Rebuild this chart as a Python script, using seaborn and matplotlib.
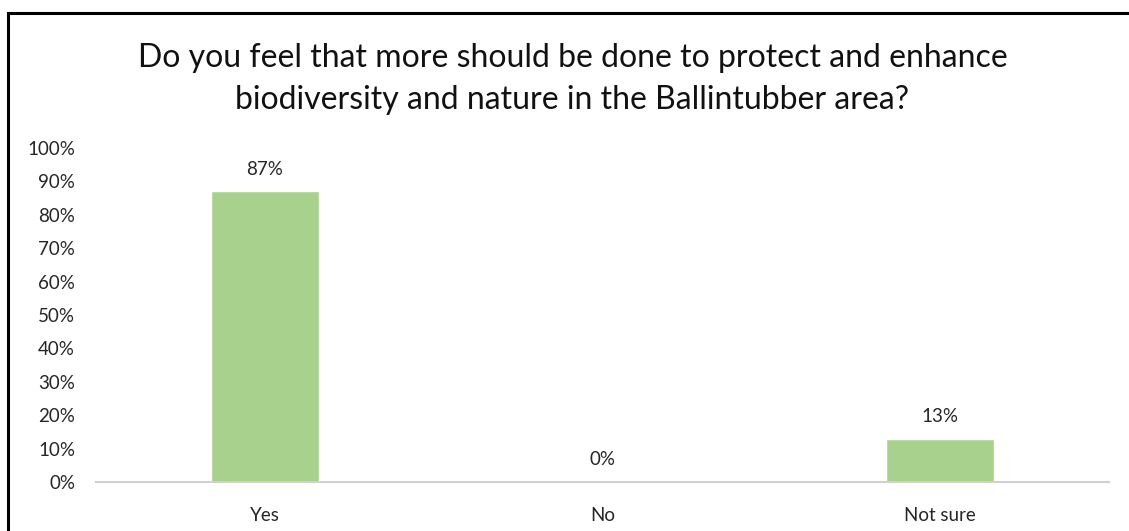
import matplotlib
matplotlib.use("Agg")
import matplotlib.pyplot as plt
import seaborn as sns
import pandas as pd
from matplotlib.patches import Rectangle
from matplotlib.ticker import FuncFormatter, MultipleLocator

categories = ["Yes", "No", "Not sure"]
shares = [87, 0, 13]
title_text = ("Do you feel that more should be done to protect and enhance\n"
              "biodiversity and nature in the Ballintubber area?")

sns.set_theme(style="white")
plt.rcParams["font.family"] = ["Lato", "DejaVu Sans"]

df = pd.DataFrame({"answer": categories, "share": [s / 100 for s in shares]})

fig = plt.figure(figsize=(11.29, 5.31), dpi=100)
ax = fig.add_axes([0.085, 0.0923, 0.897, 0.629])

sns.barplot(data=df, x="answer", y="share", color="#a9d18e", saturation=1,
            width=0.32, ax=ax)

ax.set_xlim(-0.5, 2.5)
ax.set_ylim(0, 1)
ax.yaxis.set_major_locator(MultipleLocator(0.1))
ax.yaxis.set_major_formatter(FuncFormatter(lambda v, _: f"{v * 100:.0f}%"))
ax.set_xlabel("")
ax.set_ylabel("")
ax.tick_params(axis="y", labelsize=13.5, length=0, pad=15)
ax.tick_params(axis="x", labelsize=13.5, length=0, pad=18)
for lab in ax.get_xticklabels() + ax.get_yticklabels():
    lab.set_color("#262626")

for side in ["top", "right", "left"]:
    ax.spines[side].set_visible(False)
ax.spines["bottom"].set_color("#d0d0d0")
ax.spines["bottom"].set_linewidth(1.5)

for patch, s in zip(ax.patches, shares):
    x = patch.get_x() + patch.get_width() / 2
    ax.annotate(f"{s}%", (x, patch.get_height()), xytext=(0, 10),
                textcoords="offset points", ha="center", va="bottom",
                fontsize=13.5, color="#262626")

fig.text(0.507, 0.851, title_text, ha="center", va="center",
         fontsize=23, color="#111111", linespacing=1.48)

# outer frame around the chart area
frame = Rectangle((8 / 1129, -0.2), 1.2, 1.2 - 13 / 531,
                  transform=fig.transFigure, fill=False,
                  edgecolor="black", linewidth=2.2, clip_on=False)
fig.patches.append(frame)

fig.savefig("out.png", dpi=100)
